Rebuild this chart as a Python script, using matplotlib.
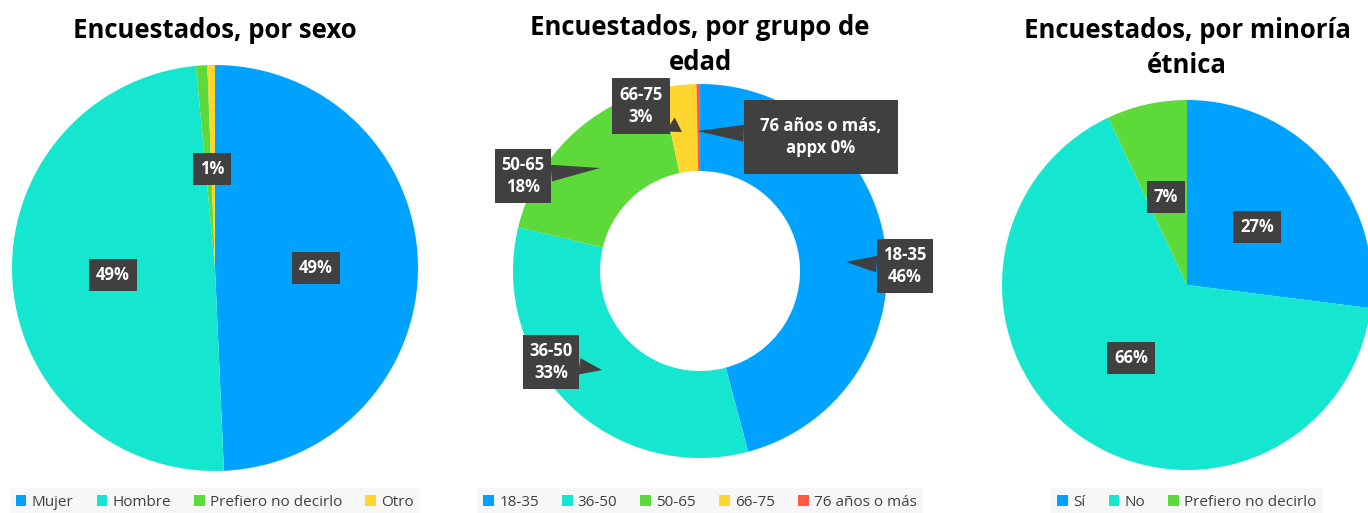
import matplotlib
matplotlib.use("Agg")
import matplotlib.pyplot as plt
from matplotlib.patches import Patch

plt.rcParams['font.family'] = ['Open Sans', 'DejaVu Sans']

# data
sexo_labels = ["Mujer", "Hombre", "Prefiero no decirlo", "Otro"]
sexo_vals = [49.3, 49.2, 0.9, 0.6]

edad_labels = ["18-35", "36-50", "50-65", "66-75", "76 años o más"]
edad_vals = [46, 33, 18, 3, 0.3]

etnia_labels = ["Sí", "No", "Prefiero no decirlo"]
etnia_vals = [27, 66, 7]

blue = "#00A2FF"
teal = "#14E6CF"
green = "#5DD939"
yellow = "#FFD52E"
red = "#FF5A44"
box = "#404040"

W, H = 1368, 513
fig = plt.figure(figsize=(W / 100, H / 100), dpi=100)
ax = fig.add_axes([0, 0, 1, 1])


def Y(y):
    # pixel row from the top -> data y
    return H - y


# sexo
w1, _ = ax.pie(sexo_vals, colors=[blue, teal, green, yellow], startangle=90,
               counterclock=False, center=(215, Y(268)), radius=203,
               wedgeprops=dict(linewidth=0))

# edad (donut)
w2, _ = ax.pie(edad_vals, colors=[blue, teal, green, yellow, red], startangle=90,
               counterclock=False, center=(700, Y(271)), radius=187,
               explode=[0.06, 0, 0, 0, 0],
               wedgeprops=dict(width=87, linewidth=0))

# etnia
w3, _ = ax.pie(etnia_vals, colors=[blue, teal, green], startangle=90,
               counterclock=False, center=(1187, Y(285)), radius=185,
               wedgeprops=dict(linewidth=0))

ax.set_xlim(0, W)
ax.set_ylim(0, H)
ax.set_aspect('auto')
ax.axis('off')

lab = dict(color="white", fontsize=12, fontweight="bold", ha="center", va="center",
           linespacing=1.3)


def tb(pad=0.4):
    return dict(boxstyle="square,pad=%s" % pad, fc=box, ec="none")


# simple labels
for txt, (x, y) in [("49%", (316, 268)), ("49%", (113, 275)), ("1%", (212, 169)),
                    ("27%", (1257, 227)), ("66%", (1131, 358)), ("7%", (1166, 197))]:
    ax.text(x, Y(y), txt, bbox=tb(), **lab)

# callouts on the donut
callouts = [
    ("18-35\n46%", (905, 266), (846, 262), 0.4),
    ("36-50\n33%", (551, 362), (602, 370), 0.4),
    ("50-65\n18%", (523, 176), (600, 168), 0.4),
    ("66-75\n3%", (641, 106), (682, 132), 0.45),
    ("76 años o más,\nappx 0%", (821, 137), (697, 131), 1.0),
]
for txt, (tx, ty), (px, py), pad in callouts:
    ax.annotate(txt, xy=(px, Y(py)), xytext=(tx, Y(ty)), bbox=tb(pad),
                arrowprops=dict(arrowstyle="wedge,tail_width=1.0,shrink_factor=0.5",
                                fc=box, ec="none", shrinkA=0, shrinkB=0),
                **lab)

# titles
tt = dict(fontsize=18.5, fontweight="bold", ha="center", va="center", color="black",
          linespacing=1.35)
fig.text(215 / W, 1 - 30 / H, "Encuestados, por sexo", **tt)
fig.text(700 / W, 1 - 45 / H, "Encuestados, por grupo de\nedad", **tt)
fig.text(1187 / W, 1 - 48 / H, "Encuestados, por minoría\nétnica", **tt)


# legends
def add_legend(labels, colors, cx):
    handles = [Patch(facecolor=c, edgecolor="none") for c in colors]
    leg = fig.legend(handles, labels, loc="center", bbox_to_anchor=(cx / W, 1 - 502 / H),
                     ncol=len(labels), frameon=True, fontsize=11,
                     handlelength=0.7, handleheight=0.7, handletextpad=0.35,
                     columnspacing=1.5, borderpad=0.4, borderaxespad=0, fancybox=False)
    leg.get_frame().set_facecolor("#F6F6F6")
    leg.get_frame().set_edgecolor("none")
    for t in leg.get_texts():
        t.set_color("#404040")
    return leg


add_legend(sexo_labels, [blue, teal, green, yellow], 215)
add_legend(edad_labels, [blue, teal, green, yellow, red], 700)
add_legend(etnia_labels, [blue, teal, green], 1187)

fig.savefig("out.png", dpi=100, facecolor="white")
